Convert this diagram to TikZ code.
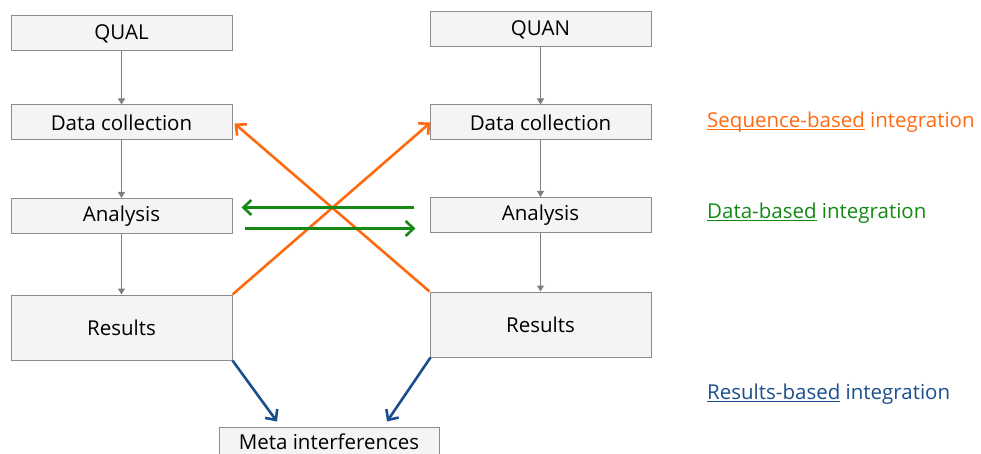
\documentclass[tikz,border=0pt]{standalone}
\usepackage{fontspec}
\setmainfont{Open Sans}
\usetikzlibrary{arrows.meta}
\definecolor{boxfill}{HTML}{F4F4F4}
\definecolor{boxline}{HTML}{8C8C8C}
\definecolor{seqor}{HTML}{FF6A10}
\definecolor{datagr}{HTML}{148A14}
\definecolor{resbl}{HTML}{1A4F8C}
\newcommand\myul[1]{\setbox0\hbox{#1}\rlap{\rule[-2.6pt]{\wd0}{0.9pt}}\box0\relax}
\tikzset{
  stagebox/.style={draw=boxline, line width=1pt, fill=boxfill, minimum width=221pt, minimum height=35pt, inner sep=0pt, font=\fontsize{20.5}{22}\selectfont},
  flowarrow/.style={draw=boxline!90!black, line width=1pt, -{Triangle[width=7pt,length=6pt]}},
  seqarrow/.style={draw=seqor, line width=2.6pt, -{Straight Barb[length=8pt,width=15pt]}},
  dataarrow/.style={draw=datagr, line width=2.6pt, -{Straight Barb[length=8pt,width=15pt]}},
  resarrow/.style={draw=resbl, line width=2.6pt, -{Straight Barb[length=8pt,width=15pt]}},
  legend/.style={anchor=west, inner sep=0pt, font=\fontsize{20.5}{22}\selectfont}
}
\begin{document}
\begin{tikzpicture}[x=1pt,y=-1pt]
\useasboundingbox (0,0) rectangle (981,454);
% left column
\node[stagebox] (qual) at (121.5,33.5) {QUAL};
\node[stagebox] (ldc) at (121.5,122.5) {Data collection};
\node[stagebox] (lan) at (121.5,216) {Analysis};
\node[stagebox, minimum height=65pt] (lres) at (121.5,327.5) {Results};
% right column
\node[stagebox] (quan) at (540.5,29.5) {QUAN};
\node[stagebox] (rdc) at (540.5,122.5) {Data collection};
\node[stagebox] (ran) at (540.5,215) {Analysis};
\node[stagebox, minimum height=65pt] (rres) at (540.5,324.5) {Results};
% meta
\node[stagebox, minimum width=220pt, minimum height=29pt] (meta) at (329,441.5) {Meta interferences};
% vertical flow
\draw[flowarrow] (qual) -- (ldc);
\draw[flowarrow] (ldc) -- (lan);
\draw[flowarrow] (lan) -- (lres);
\draw[flowarrow] (quan) -- (rdc);
\draw[flowarrow] (rdc) -- (ran);
\draw[flowarrow] (ran) -- (rres);
% sequence-based
\coordinate (lrtop) at (lres.north east);
\coordinate (rrtop) at (rres.north west);
\draw[seqarrow] (lrtop) -- ([xshift=1pt]rdc.west);
\draw[seqarrow] (rrtop) -- ([xshift=2pt,yshift=-1pt]ldc.east);
% data-based
\draw[dataarrow] ([xshift=-16pt,yshift=7.5pt]ran.west) -- ([xshift=9pt,yshift=8.5pt]lan.east);
\draw[dataarrow] ([xshift=12pt,yshift=-12.5pt]lan.east) -- ([xshift=-14pt,yshift=-13.5pt]ran.west);
% results-based
\draw[resarrow] (lres.south east) -- ([xshift=-52pt,yshift=5pt]meta.north);
\draw[resarrow] ([xshift=1pt]rres.south west) -- ([xshift=58pt,yshift=5pt]meta.north);
% legend
\node[legend, text=seqor] (lseq) at (707,122) {\myul{Sequence-based} integration};
\node[legend, text=datagr] (ldat) at (707,213) {\myul{Data-based} integration};
\node[legend, text=resbl] (lresl) at (707,394) {\myul{Results-based} integration};
\end{tikzpicture}
\end{document}
